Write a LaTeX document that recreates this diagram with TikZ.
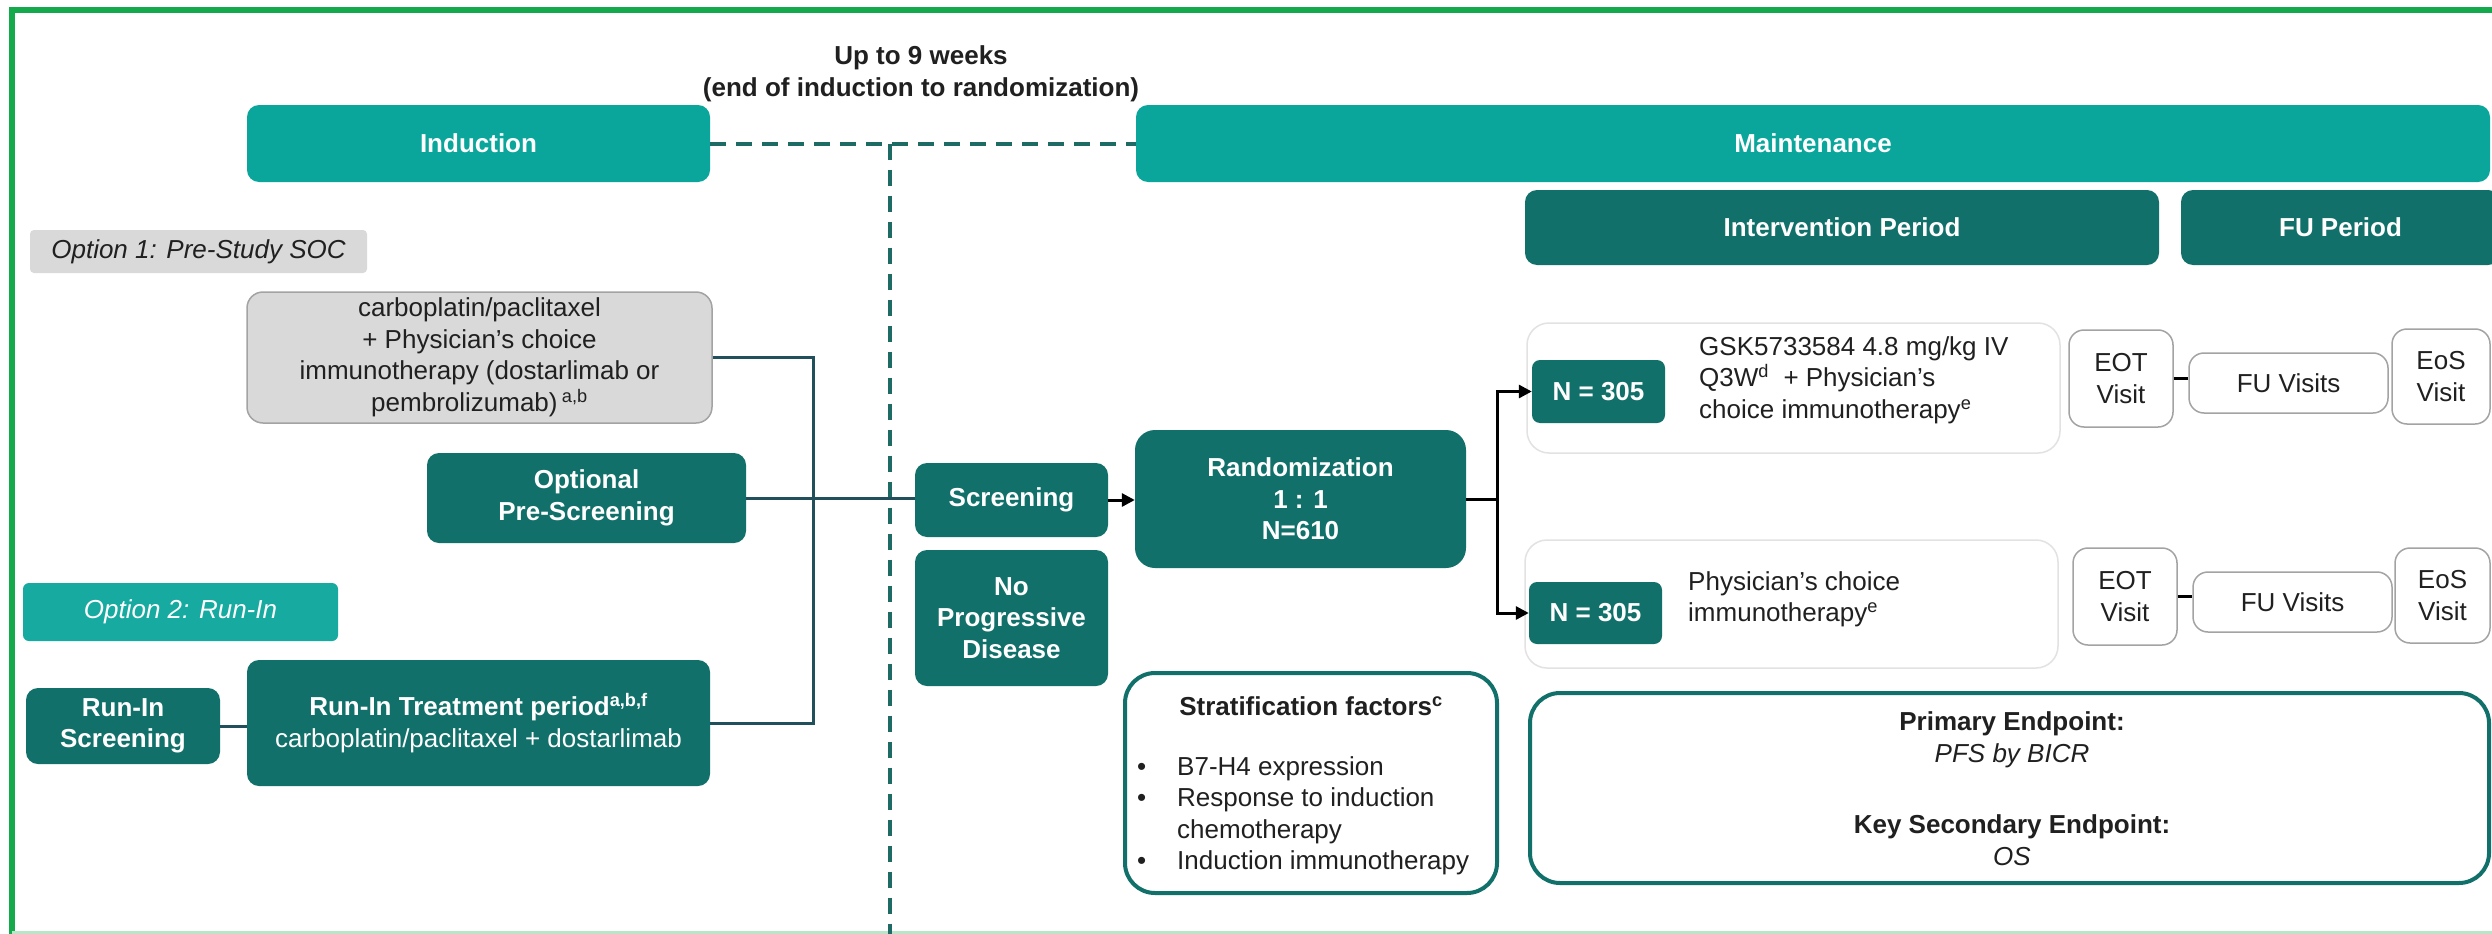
\documentclass[tikz,border=0pt]{standalone}
\usepackage{fontspec}
\setmainfont{Liberation Sans}
\usetikzlibrary{arrows.meta}

\definecolor{tealL}{HTML}{0AA59B}
\definecolor{tealO}{HTML}{16AAA0}
\definecolor{tealD}{HTML}{11706A}
\definecolor{greyF}{HTML}{D9D9D9}
\definecolor{greyB}{HTML}{A3A3A3}
\definecolor{greyA}{HTML}{E2E2E2}
\definecolor{linkC}{HTML}{214F5C}
\definecolor{dashC}{HTML}{1E6A64}
\definecolor{frameG}{HTML}{14AA4B}
\definecolor{inkC}{HTML}{202020}

\begin{document}
\begin{tikzpicture}[x=1pt,y=-1pt,
  fs/.style={font=\fontsize{26pt}{31.5pt}\selectfont},
  fsb/.style={font=\fontsize{26pt}{31.5pt}\selectfont\bfseries},
  wh/.style 2 args={minimum width=#1pt, minimum height=#2pt},
  base/.style={rounded corners=12pt, inner sep=0pt, align=center},
  lt/.style={base, fill=tealL, text=white, fsb},
  dk/.style={base, fill=tealD, text=white, fsb},
  optone/.style={base, rounded corners=4pt, fill=greyF, text=inkC, font=\fontsize{26pt}{31.5pt}\selectfont\itshape},
  opttwo/.style={base, rounded corners=6pt, fill=tealO, text=white, font=\fontsize{26pt}{31.5pt}\selectfont\itshape},
  soc/.style={base, rounded corners=16pt, fill=greyF, draw=greyB, line width=1.5pt, text=inkC, fs},
  arm/.style={base, rounded corners=22pt, draw=greyA, line width=1.5pt},
  visit/.style={base, rounded corners=15pt, draw=greyB, line width=1.5pt, text=inkC, fs},
  panel/.style={base, rounded corners=30pt, draw=tealD, line width=4pt},
  txt/.style={inner sep=0pt, text=inkC, fs},
  conn/.style={draw=linkC, line width=3pt},
  arr/.style={draw=black, line width=3pt, -{Triangle[length=13pt,width=13pt]}},
  tie/.style={draw=black, line width=3pt},
  dsh/.style={draw=dashC, line width=4pt, dash pattern=on 16pt off 10pt}
]
\useasboundingbox (0,0) rectangle (2492,934);
\clip (0,0) rectangle (2492,934);
\fill[white] (0,0) rectangle (2492,934);

% outer frame
\draw[frameG, line width=6pt] (2500,10) -- (12,10) -- (12,940);
\draw[frameG!30, line width=3pt] (12,932.5) -- (2500,932.5);

% timing note
\node[txt, fsb, align=center] (weeks) at (921,74) {Up to 9 weeks\\(end of induction to randomization)};

% phase headers
\node[lt, wh={463}{77}] (induction) at (478.5,143.5) {Induction};
\node[lt, wh={1354}{77}] (maint) at (1813,143.5) {Maintenance};
\node[dk, wh={634}{75}] (interv) at (1842,227.5) {Intervention Period};
\node[dk, wh={319}{75}] (fup) at (2340.5,227.5) {FU Period};

% induction options
\node[optone, wh={337}{43}] (opt1) at (198.5,251.5) {Option 1: Pre-Study SOC};
\node[soc, wh={465}{131}] (soc) at (479.5,357.5) {carboplatin/paclitaxel\\+ Physician’s choice\\immunotherapy (dostarlimab or\\pembrolizumab)\,\textsuperscript{a,b}};
\node[dk, wh={319}{90}] (prescr) at (586.5,498) {Optional\\Pre-Screening};
\node[opttwo, wh={315}{58}] (opt2) at (180.5,612) {Option 2: Run-In};
\node[dk, wh={194}{76}] (riscr) at (123,726) {Run-In\\Screening};
\node[dk, wh={463}{126}] (ritreat) at (478.5,723) {Run-In Treatment period\textsuperscript{a,b,f}\\{\mdseries carboplatin/paclitaxel + dostarlimab}};

% screening and randomization
\node[dk, wh={193}{74}] (screen) at (1011.5,500) {Screening};
\node[dk, wh={193}{136}] (nopd) at (1011.5,618) {No\\Progressive\\Disease};
\node[dk, wh={331}{138}, rounded corners=20pt] (rand) at (1300.5,499) {Randomization\\1 : 1\\N=610};

% arm 1
\node[arm, wh={533}{130}] (arm1) at (1793.5,388) {};
\node[dk, wh={133}{63}, rounded corners=8pt] (n1) at (1598.5,391.5) {N = 305};
\node[txt, anchor=west, align=left] (t1) at (1699,380) {GSK5733584 4.8 mg/kg IV\\Q3W\textsuperscript{d}\ \ + Physician’s\\choice immunotherapy\textsuperscript{e}};
\node[visit, wh={104}{97}] (eot1) at (2121,378.5) {EOT\\Visit};
\node[visit, wh={199}{60}] (fu1) at (2288.5,383) {FU Visits};
\node[visit, wh={98}{95}] (eos1) at (2441,376.5) {EoS\\Visit};

% arm 2
\node[arm, wh={533}{128}] (arm2) at (1791.5,604) {};
\node[dk, wh={133}{62}, rounded corners=8pt] (n2) at (1595.5,613) {N = 305};
\node[txt, anchor=west, align=left] (t2) at (1688,599.5) {Physician’s choice\\immunotherapy\textsuperscript{e}};
\node[visit, wh={104}{97}] (eot2) at (2125,596.5) {EOT\\Visit};
\node[visit, wh={199}{60}] (fu2) at (2292.5,602) {FU Visits};
\node[visit, wh={95}{95}] (eos2) at (2442.5,595.5) {EoS\\Visit};

% stratification panel
\node[panel, wh={372}{220}] (strat) at (1311,783) {};
\node[txt, fsb] (stratT) at (1311,706) {Stratification factors\textsuperscript{c}};
\node[txt, anchor=west, align=left] (stratL) at (1137,816) {\makebox[40pt][l]{•}B7-H4 expression\\\makebox[40pt][l]{•}Response to induction\\\makebox[40pt][l]{}chemotherapy\\\makebox[40pt][l]{•}Induction immunotherapy};

% endpoints panel
\node[panel, wh={959}{190}] (endp) at (2009.5,788) {};
\node[txt, align=center] (prim) at (2012,740) {\textbf{Primary Endpoint:}\\\textit{PFS by BICR}};
\node[txt, align=center] (sec) at (2012,840) {\textbf{Key Secondary Endpoint:}\\\textit{OS}};

% timing dashes
\coordinate (dj) at (890,143.5);
\coordinate (dbot) at (890,940);
\draw[dsh] (induction.east) -- (maint.west);
\draw[dsh] (dj) -- (dbot);

% induction connectors
\coordinate (jx) at (813,500);
\draw[conn] (soc.east) -| (jx) |- (ritreat.east);
\draw[conn] (prescr.east) -- (prescr.east -| screen.west);
\draw[conn] (riscr.east) -- (riscr.east -| ritreat.west);

% flow to randomization and arms
\draw[arr] (screen.east) -- (screen.east -| rand.west);
\coordinate (split) at (1497,499);
\draw[tie] (rand.east) -- (split);
\draw[arr] (split) |- (n1.west);
\draw[arr] (split) |- (n2.west);

% visit links
\draw[tie] (eot1.east) -- (eot1.east -| fu1.west);
\draw[tie] (eot2.east) -- (eot2.east -| fu2.west);
\end{tikzpicture}
\end{document}
